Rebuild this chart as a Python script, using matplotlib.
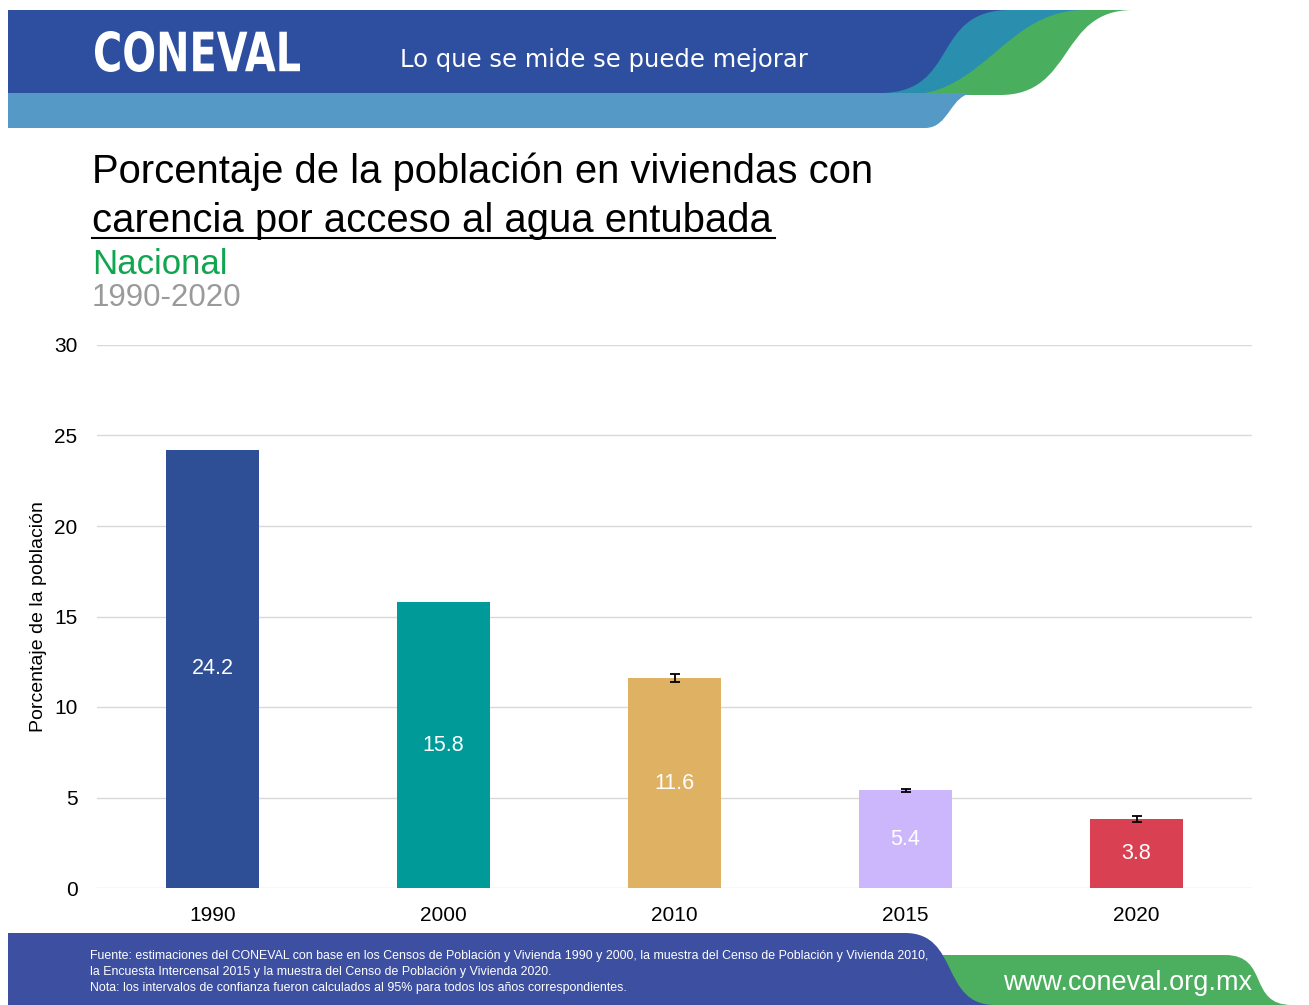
#Porcentaje de la poblacion con carencia por acceso al agua entubada
import matplotlib.pyplot as plt
from matplotlib.path import Path
from matplotlib.patches import PathPatch
from matplotlib.textpath import TextPath
from matplotlib.font_manager import FontProperties
from matplotlib.transforms import Affine2D
import numpy as np

years = ['1990', '2000', '2010', '2015', '2020']
values = [24.2, 15.8, 11.6, 5.4, 3.8]
errors = [0.0, 0.0, 0.22, 0.08, 0.17]
has_err = [False, False, True, True, True]
colors = ['#2E4E96', '#009A98', '#DFB163', '#CDB7FC', '#D94152']

W, H = 1309, 1005
fig = plt.figure(figsize=(W/100, H/100), dpi=100)
fig.patch.set_facecolor('white')

def px(x, y):
    return (x/W, 1 - y/H)

def wave(x0, ytop, ybot, xt, xb, k, color, z):
    #band with an S-shaped right edge, in pixel coords
    s = 1 if xb > xt else -1
    verts = [px(x0, ytop), px(xt, ytop), px(xt+s*k, ytop), px(xb-s*k, ybot), px(xb, ybot), px(x0, ybot), px(x0, ytop)]
    codes = [Path.MOVETO, Path.LINETO, Path.CURVE4, Path.CURVE4, Path.CURVE4, Path.LINETO, Path.CLOSEPOLY]
    fig.patches.append(PathPatch(Path(verts, codes), facecolor=color, edgecolor='none',
                                 transform=fig.transFigure, zorder=z))

#header
wave(8, 10, 95, 1133, 1000, 75, '#4AAE5F', 1)
wave(8, 10, 95, 1085, 905, 80, '#2A8FAE', 2)
wave(8, 10, 93, 1010, 880, 80, '#2E4E9F', 3)
wave(8, 93, 128, 975, 925, 25, '#5599C6', 4)

#logo, stretched to its box
tp = TextPath((0, 0), 'CONEVAL', size=50, prop=FontProperties(family='DejaVu Sans', weight='bold'))
ext = tp.get_extents()
x0, x1, y0, y1 = 95/W, 300/W, 1-72/H, 1-31/H
logo_tr = Affine2D().translate(-ext.x0, -ext.y0).scale((x1-x0)/ext.width, (y1-y0)/ext.height).translate(x0, y0)
fig.patches.append(PathPatch(logo_tr.transform_path(tp), facecolor='white', edgecolor='none',
                             transform=fig.transFigure, zorder=5))
fig.text(400/W, 1-60/H, 'Lo que se mide se puede mejorar', color='white', fontsize=17.5,
         va='center', ha='left', zorder=5)

#footer
wave(900, 955, 1005, 1225, 1292, 45, '#4CAF5F', 1)
wave(8, 933, 1005, 905, 995, 55, '#3C4FA0', 2)
foot = ('Fuente: estimaciones del CONEVAL con base en los Censos de Población y Vivienda 1990 y 2000, la muestra del Censo de Población y Vivienda 2010,\n'
        'la Encuesta Intercensal 2015 y la muestra del Censo de Población y Vivienda 2020.\n'
        'Nota: los intervalos de confianza fueron calculados al 95% para todos los años correspondientes.')
fig.text(90/W, 1-972/H, foot, color='white', fontsize=8.9, va='center', ha='left',
         linespacing=1.42, family='Liberation Sans', zorder=5)
fig.text(1252/W, 1-983/H, 'www.coneval.org.mx', color='white', fontsize=19.5, va='center',
         ha='right', family='Liberation Sans', zorder=5)

#titles
fig.text(92/W, 1-172/H, 'Porcentaje de la población en viviendas con', fontsize=28.8,
         va='center', ha='left', family='Liberation Sans')
fig.text(92/W, 1-221/H, 'carencia por acceso al agua entubada', fontsize=28.8,
         va='center', ha='left', family='Liberation Sans')
fig.add_artist(plt.Line2D([92/W, 775/W], [1-238/H, 1-238/H], color='black', lw=1.5))
fig.text(92/W, 1-264/H, 'Nacional', fontsize=25, color='#10A64F', va='center', ha='left',
         family='Liberation Sans')
fig.text(92/W, 1-298/H, '1990-2020', fontsize=22.5, color='#9A9A9A', va='center', ha='left',
         family='Liberation Sans')

#chart
ax = fig.add_axes([97/W, 1-888/H, (1252-97)/W, (888-345)/H])
x = np.arange(len(years))
ax.bar(x, values, width=0.4, color=colors, zorder=3)
xe = x[has_err]
ax.errorbar(xe, np.array(values)[has_err], yerr=np.array(errors)[has_err], fmt='none',
            ecolor='black', elinewidth=1.3, capsize=3.5, capthick=1.3, zorder=4)
for xi, v in zip(x, values):
    ax.text(xi, v/2, f'{v:.1f}', color='white', fontsize=15.5, ha='center', va='center',
            family='Liberation Sans', zorder=5)

ax.set_xlim(-0.5, 4.5)
ax.set_ylim(0, 30)
ax.set_yticks([0, 5, 10, 15, 20, 25, 30])
ax.set_xticks(x)
ax.set_xticklabels(years)
ax.grid(axis='y', color='#D9D9D9', lw=1, zorder=0)
for s in ax.spines.values():
    s.set_visible(False)
ax.tick_params(axis='both', length=0, labelsize=15)
ax.tick_params(axis='y', pad=14)
ax.tick_params(axis='x', pad=13)
for lab in ax.get_xticklabels() + ax.get_yticklabels():
    lab.set_family('Liberation Sans')
ax.set_ylabel('Porcentaje de la población', fontsize=14, family='Liberation Sans', labelpad=5)

plt.savefig('out.png', dpi=100, facecolor='white')
